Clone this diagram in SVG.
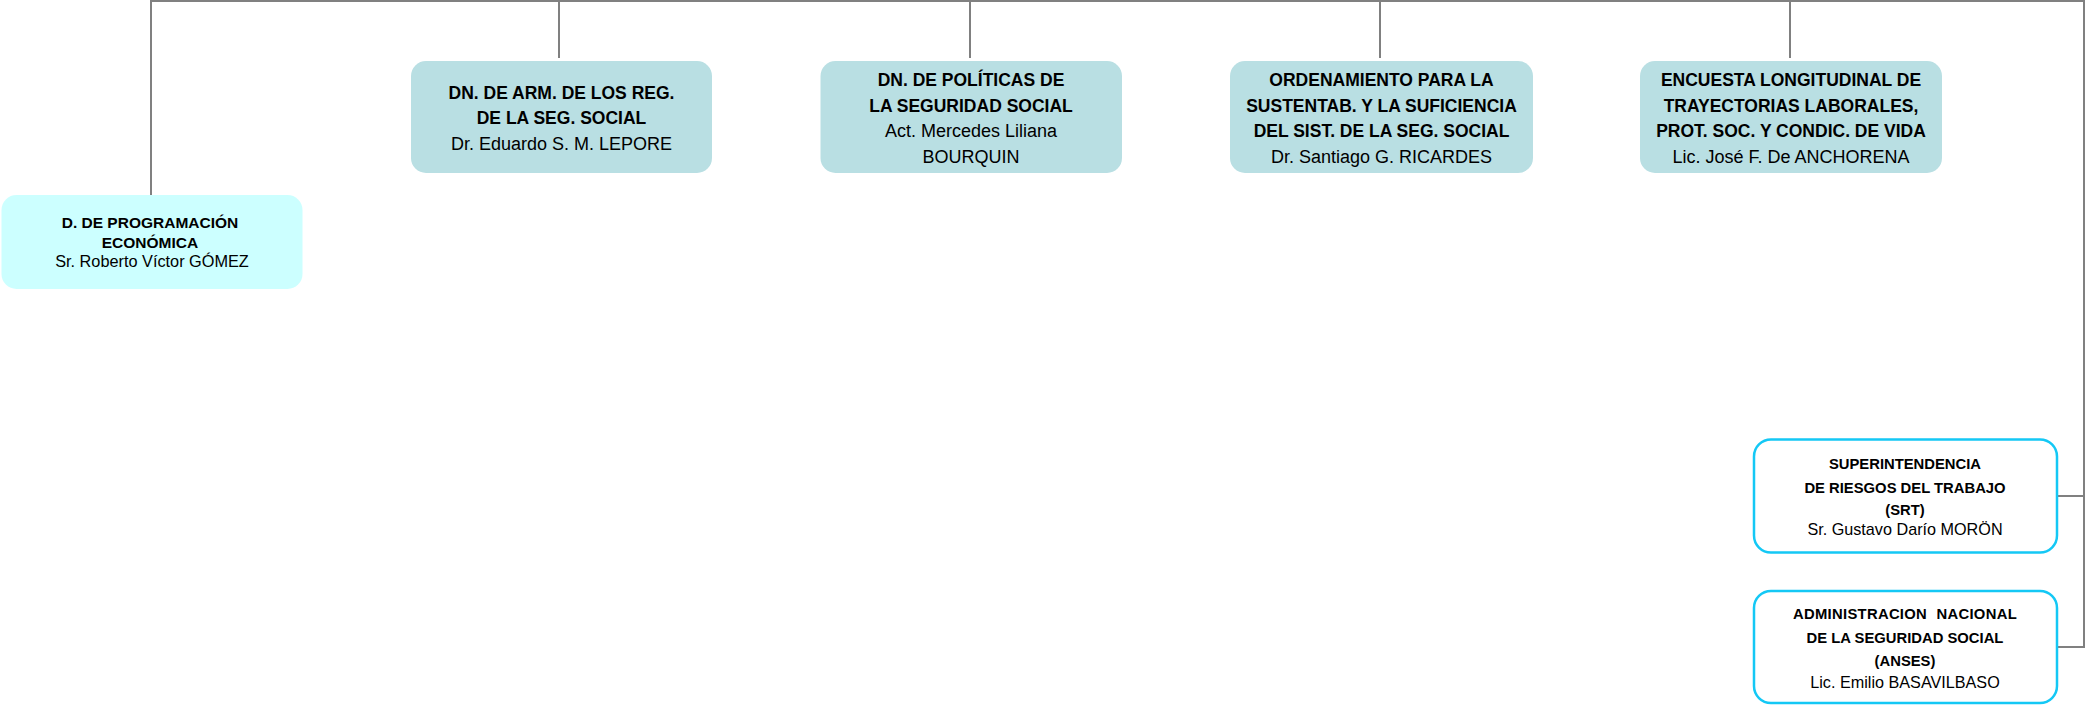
<svg xmlns="http://www.w3.org/2000/svg" width="2086" height="706" viewBox="0 0 2086 706">
<style>
.conn{fill:none;stroke:#808080;stroke-width:2}
.box{fill:#B9DFE3}
.box1{fill:#CCFFFF}
.box2{fill:#FFFFFF;stroke:#14C8F5;stroke-width:2.5}
text{font-family:"Liberation Sans",Arial,sans-serif;fill:#000;text-anchor:middle}
.b{font-weight:bold;font-size:17.5px}
.r{font-size:18px}
.sb{font-weight:bold;font-size:15.5px}
.sr{font-size:16.3px}
.tb{font-weight:bold;font-size:14.8px}
.tr{font-size:16.2px}
.wide{letter-spacing:0.3px;word-spacing:5px}
</style>
<rect width="2086" height="706" fill="#FFFFFF"/>
<g id="connectors">
<path class="conn" d="M151,196 V1 H2084 V647 H2058"/>
<path class="conn" d="M2084,496 H2058"/>
<path class="conn" d="M559,1 V58"/>
<path class="conn" d="M970,1 V58"/>
<path class="conn" d="M1380,1 V58"/>
<path class="conn" d="M1790,1 V58"/>
</g>
<g id="n1">
<rect class="box1" x="1.5" y="195" width="301" height="94" rx="15"/>
<text class="sb" x="150" y="228">D. DE PROGRAMACIÓN</text>
<text class="sb" x="150" y="248">ECONÓMICA</text>
<text class="sr" x="152" y="267">Sr. Roberto Víctor GÓMEZ</text>
</g>
<g id="n2">
<rect class="box" x="411" y="61" width="301" height="112" rx="15"/>
<text class="b" x="561.5" y="99">DN. DE ARM. DE LOS REG.</text>
<text class="b" x="561.5" y="124">DE LA SEG. SOCIAL</text>
<text class="r" x="561.5" y="150">Dr. Eduardo S. M. LEPORE</text>
</g>
<g id="n3">
<rect class="box" x="820.5" y="61" width="301.5" height="112" rx="15"/>
<text class="b" x="971" y="86">DN. DE POLÍTICAS DE</text>
<text class="b" x="971" y="112">LA SEGURIDAD SOCIAL</text>
<text class="r" x="971" y="137">Act. Mercedes Liliana</text>
<text class="r" x="971" y="163">BOURQUIN</text>
</g>
<g id="n4">
<rect class="box" x="1230" y="61" width="303" height="112" rx="15"/>
<text class="b" x="1381.5" y="86">ORDENAMIENTO PARA LA</text>
<text class="b" x="1381.5" y="112">SUSTENTAB. Y LA SUFICIENCIA</text>
<text class="b" x="1381.5" y="137">DEL SIST. DE LA SEG. SOCIAL</text>
<text class="r" x="1381.5" y="163">Dr. Santiago G. RICARDES</text>
</g>
<g id="n5">
<rect class="box" x="1640" y="61" width="302" height="112" rx="15"/>
<text class="b" x="1791" y="86">ENCUESTA LONGITUDINAL DE</text>
<text class="b" x="1791" y="112">TRAYECTORIAS LABORALES,</text>
<text class="b" x="1791" y="137">PROT. SOC. Y CONDIC. DE VIDA</text>
<text class="r" x="1791" y="163">Lic. José F. De ANCHORENA</text>
</g>
<g id="srt">
<rect class="box2" x="1754" y="439.5" width="303" height="113" rx="17"/>
<text class="tb" x="1905" y="469">SUPERINTENDENCIA</text>
<text class="tb" x="1905" y="493">DE RIESGOS DEL TRABAJO</text>
<text class="tb" x="1905" y="515">(SRT)</text>
<text class="tr" x="1905" y="535">Sr. Gustavo Darío MORÖN</text>
</g>
<g id="anses">
<rect class="box2" x="1754" y="591" width="303" height="112" rx="17"/>
<text class="tb wide" x="1905" y="619">ADMINISTRACION NACIONAL</text>
<text class="tb" x="1905" y="643">DE LA SEGURIDAD SOCIAL</text>
<text class="tb" x="1905" y="666">(ANSES)</text>
<text class="tr" x="1905" y="688">Lic. Emilio BASAVILBASO</text>
</g>
</svg>
